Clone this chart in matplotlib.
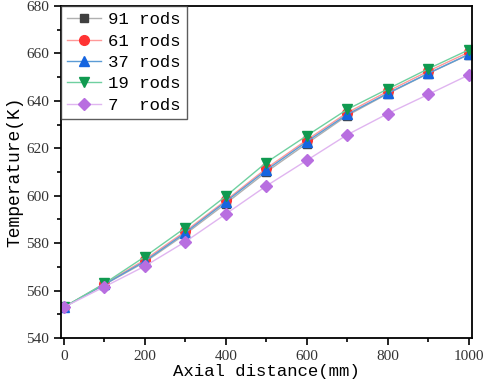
import matplotlib
matplotlib.use("Agg")
import matplotlib.pyplot as plt
from matplotlib.ticker import MultipleLocator

x = [0, 100, 200, 300, 400, 500, 600, 700, 800, 900, 1000]
rods_91 = [553, 562.5, 572.0, 583.8, 596.7, 610.0, 622.0, 633.8, 643.0, 651.5, 659.5]
rods_61 = [553, 562.8, 573.0, 585.0, 598.0, 611.5, 623.5, 635.0, 644.0, 652.5, 660.5]
rods_37 = [553, 562.6, 572.4, 584.4, 597.5, 610.8, 622.8, 634.3, 643.2, 651.6, 659.6]
rods_19 = [553, 563.0, 574.3, 586.5, 599.8, 614.0, 625.3, 636.4, 645.0, 653.5, 661.5]
rods_7 = [553, 561.6, 570.3, 580.6, 592.3, 604.1, 614.9, 625.7, 634.6, 642.7, 650.9]
labels = ["91 rods", "61 rods", "37 rods", "19 rods", "7  rods"]

series = [rods_91, rods_61, rods_37, rods_19, rods_7]
markers = ["s", "o", "^", "v", "D"]
mcolors = ["#404040", "#ff3333", "#1565e0", "#109a50", "#b86ee0"]
lcolors = ["#b0b0b0", "#ff9999", "#5b9bd5", "#6fd0a0", "#e0b5f0"]
msizes = [6, 7, 7.5, 7.5, 6]

fig = plt.figure(figsize=(4.84, 3.82), dpi=100)
ax = fig.add_axes([0.1254, 0.1152, 0.8496, 0.8691])

for s, m, mc, lc, ms, lab in zip(series, markers, mcolors, lcolors, msizes, labels):
    ax.plot(x, s, color=lc, lw=1.0, marker=m, markersize=ms,
            markerfacecolor=mc, markeredgecolor=mc, label=lab)

ax.set_xlim(-8, 1008)
ax.set_ylim(540, 680)
ax.xaxis.set_major_locator(MultipleLocator(200))
ax.xaxis.set_minor_locator(MultipleLocator(100))
ax.yaxis.set_major_locator(MultipleLocator(20))
ax.yaxis.set_minor_locator(MultipleLocator(10))
ax.tick_params(which="both", direction="out", top=False, right=False, width=1.2)
ax.tick_params(which="major", length=5, labelsize=11)
ax.tick_params(which="minor", length=3)
for sp in ax.spines.values():
    sp.set_linewidth(1.3)
for lbl in ax.get_xticklabels() + ax.get_yticklabels():
    lbl.set_fontfamily("Liberation Serif")
    lbl.set_color("#333333")

ax.set_xlabel("Axial distance(mm)", fontsize=12.5, fontfamily="Liberation Mono", labelpad=1)
ax.set_ylabel("Temperature(K)", fontsize=13, fontfamily="Liberation Mono", labelpad=2)

leg = ax.legend(loc="upper left", prop={"family": "Liberation Mono", "size": 12.5},
                frameon=True, fancybox=False, edgecolor="#333333", borderaxespad=0,
                handlelength=2.0, handletextpad=0.4, labelspacing=0.36, borderpad=0.35)
leg.get_frame().set_linewidth(1.0)

fig.savefig("out.png", dpi=100)
